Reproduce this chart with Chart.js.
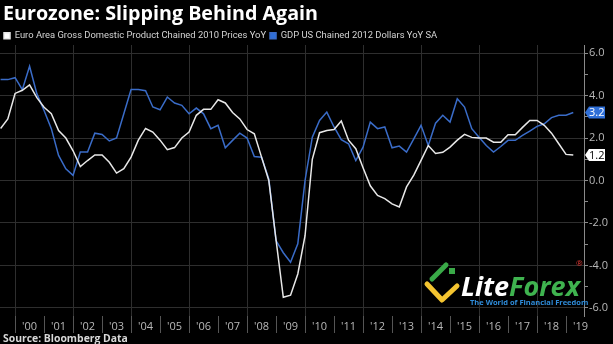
<!DOCTYPE html>
<html>
<head>
<meta charset="utf-8">
<script src="https://cdn.jsdelivr.net/npm/chart.js@4.4.1/dist/chart.umd.min.js"></script>
<style>
html, body { margin: 0; padding: 0; background: #000; }
#wrap { width: 613px; height: 344px; position: relative; }
</style>
</head>
<body>
<div id="wrap"><canvas id="gdpChart" width="613" height="344"></canvas></div>
<script>
const quarters = [
  '1999Q2', '1999Q3', '1999Q4',
  '2000Q1', '2000Q2', '2000Q3', '2000Q4',
  '2001Q1', '2001Q2', '2001Q3', '2001Q4',
  '2002Q1', '2002Q2', '2002Q3', '2002Q4',
  '2003Q1', '2003Q2', '2003Q3', '2003Q4',
  '2004Q1', '2004Q2', '2004Q3', '2004Q4',
  '2005Q1', '2005Q2', '2005Q3', '2005Q4',
  '2006Q1', '2006Q2', '2006Q3', '2006Q4',
  '2007Q1', '2007Q2', '2007Q3', '2007Q4',
  '2008Q1', '2008Q2', '2008Q3', '2008Q4',
  '2009Q1', '2009Q2', '2009Q3', '2009Q4',
  '2010Q1', '2010Q2', '2010Q3', '2010Q4',
  '2011Q1', '2011Q2', '2011Q3', '2011Q4',
  '2012Q1', '2012Q2', '2012Q3', '2012Q4',
  '2013Q1', '2013Q2', '2013Q3', '2013Q4',
  '2014Q1', '2014Q2', '2014Q3', '2014Q4',
  '2015Q1', '2015Q2', '2015Q3', '2015Q4',
  '2016Q1', '2016Q2', '2016Q3', '2016Q4',
  '2017Q1', '2017Q2', '2017Q3', '2017Q4',
  '2018Q1', '2018Q2', '2018Q3', '2018Q4',
  '2019Q1'
];

// YoY % change, one value per quarter above
const euroArea = [
  2.45, 2.9, 4.1,
  4.25, 4.5, 3.9, 3.45,
  3.15, 2.35, 2.0, 1.4,
  0.66, 0.94, 1.2, 1.2,
  0.86, 0.35, 0.56, 1.1,
  1.9, 2.45, 2.28, 1.9,
  1.45, 1.55, 2.0, 2.28,
  3.07, 3.35, 3.35, 3.8,
  3.65, 3.2, 2.9, 2.4,
  2.2, 1.1, 0.0, -2.8,
  -5.5, -5.4, -4.4, -2.6,
  1.0, 2.25, 2.35, 2.4,
  2.8, 1.9, 1.5, 0.6,
  -0.25, -0.7, -0.85, -1.1,
  -1.25, -0.3, 0.25, 0.95,
  1.65, 1.27, 1.33, 1.57,
  1.9, 2.17, 2.03, 2.0,
  2.0, 1.8, 1.8, 2.15,
  2.15, 2.5, 2.83, 2.83,
  2.6, 2.23, 1.73, 1.23,
  1.2
];

const usGdp = [
  4.75, 4.75, 4.84,
  4.28, 5.38, 4.09, 3.3,
  2.44, 1.18, 0.55, 0.24,
  1.34, 1.34, 2.23, 2.17,
  1.86, 2.0, 3.14, 4.28,
  4.28, 4.23, 3.46, 3.33,
  3.93, 3.65, 3.54, 3.14,
  3.41, 3.14, 2.44, 2.6,
  1.54, 1.89, 2.23, 2.0,
  1.13, 1.1, 0.08, -2.83,
  -3.4, -3.85, -2.98, 0.0,
  2.04, 2.83, 3.22, 2.52,
  1.92, 1.73, 0.94, 1.57,
  2.75, 2.44, 2.52, 1.54,
  1.62, 1.34, 1.96, 2.6,
  1.65, 2.7, 3.07, 2.75,
  3.85, 3.46, 2.44, 2.04,
  1.65, 1.34, 1.6, 1.89,
  1.89, 2.12, 2.33, 2.55,
  2.67, 2.96, 3.07, 3.07,
  3.2
];

const years = [2000, 2001, 2002, 2003, 2004, 2005, 2006, 2007, 2008, 2009,
               2010, 2011, 2012, 2013, 2014, 2015, 2016, 2017, 2018, 2019];
const yearLabels = ["'00", "'01", "'02", "'03", "'04", "'05", "'06", "'07", "'08", "'09",
                    "'10", "'11", "'12", "'13", "'14", "'15", "'16", "'17", "'18", "'19"];
const yTicks = [-6, -5, -4, -3, -2, -1, 0, 1, 2, 3, 4, 5, 6];

const titleText = 'Eurozone: Slipping Behind Again';
const sourceText = 'Source: Bloomberg Data';
const euroLabel = 'Euro Area Gross Domestic Product Chained 2010 Prices YoY';
const usLabel = 'GDP US Chained 2012 Dollars YoY SA';

const WHITE = '#e8e8e8';
const BLUE = '#3a6cc8';

// quarterly figures sit on the last day of their quarter
function quarterEnd(q) {
  return Number(q.slice(0, 4)) + Number(q.slice(5)) * 0.25;
}
function toPoints(values) {
  return values.map((v, i) => ({ x: quarterEnd(quarters[i]), y: v }));
}

function drawTag(ctx, y, label, fill, color) {
  ctx.beginPath();
  ctx.moveTo(585, y);
  ctx.lineTo(589, y - 6);
  ctx.lineTo(605, y - 6);
  ctx.lineTo(605, y + 6);
  ctx.lineTo(589, y + 6);
  ctx.closePath();
  ctx.fillStyle = fill;
  ctx.fill();
  ctx.fillStyle = color;
  ctx.font = '11px "Open Sans"';
  ctx.textAlign = 'left';
  ctx.textBaseline = 'middle';
  ctx.fillText(label, 589, y + 0.5);
}

function drawLogo(ctx) {
  ctx.save();
  ctx.lineCap = 'round';
  ctx.lineJoin = 'round';
  ctx.lineWidth = 5;
  ctx.strokeStyle = '#f4c430';
  ctx.beginPath();
  ctx.moveTo(427, 284);
  ctx.lineTo(442, 300);
  ctx.lineTo(457, 286);
  ctx.stroke();
  ctx.strokeStyle = '#3aaa48';
  ctx.beginPath();
  ctx.moveTo(432, 279);
  ctx.lineTo(446, 265);
  ctx.stroke();
  ctx.fillStyle = '#3aaa48';
  ctx.fillRect(449, 268, 6, 6);
  ctx.font = 'italic bold 27px "Open Sans"';
  ctx.textBaseline = 'alphabetic';
  ctx.textAlign = 'left';
  ctx.fillStyle = '#ffffff';
  ctx.fillText('Lite', 461, 296);
  const w = ctx.measureText('Lite').width;
  ctx.fillStyle = '#3fb34f';
  ctx.fillText('Forex', 461 + w, 296);
  ctx.fillStyle = '#e53935';
  ctx.font = '8px "Open Sans"';
  ctx.fillText('\u00AE', 576, 266);
  ctx.fillStyle = '#2f8ddb';
  ctx.font = 'bold 7.5px "Open Sans"';
  ctx.fillText('The World of Financial Freedom', 470, 305);
  ctx.restore();
}

const decorations = {
  id: 'decorations',
  afterDraw(chart) {
    const ctx = chart.ctx;
    const y = chart.scales.y;
    ctx.save();
    ctx.fillStyle = '#ffffff';
    ctx.font = 'bold 19.7px "Open Sans"';
    ctx.textBaseline = 'alphabetic';
    ctx.textAlign = 'left';
    ctx.fillText(titleText, 3, 20);
    ctx.fillStyle = '#d8d8d8';
    ctx.font = 'bold 10.4px "Open Sans"';
    ctx.fillText(sourceText, 3, 342);
    drawLogo(ctx);
    const lastUs = usGdp[usGdp.length - 1];
    const lastEuro = euroArea[euroArea.length - 1];
    drawTag(ctx, y.getPixelForValue(lastUs), lastUs.toFixed(1), '#2f6fd8', '#ffffff');
    drawTag(ctx, y.getPixelForValue(lastEuro), lastEuro.toFixed(1), '#ffffff', '#000000');
    ctx.restore();
  }
};

const ctx = document.getElementById('gdpChart').getContext('2d');
const gdpChart = new Chart(ctx, {
  type: 'line',
  data: {
    datasets: [{
      label: euroLabel,
      data: toPoints(euroArea),
      borderColor: WHITE,
      backgroundColor: '#ffffff',
      borderWidth: 1.5,
      pointRadius: 0,
      tension: 0
    }, {
      label: usLabel,
      data: toPoints(usGdp),
      borderColor: BLUE,
      backgroundColor: '#2f6fd8',
      borderWidth: 1.5,
      pointRadius: 0,
      tension: 0
    }]
  },
  options: {
    responsive: false,
    animation: false,
    layout: { padding: { top: 27, right: 0, bottom: 0, left: 0 } },
    plugins: {
      legend: {
        align: 'start',
        maxHeight: 18,
        labels: {
          boxWidth: 6,
          boxHeight: 6,
          padding: 4,
          color: '#d4d4d4',
          font: { family: 'Roboto', size: 9.4 }
        }
      },
      tooltip: { enabled: false }
    },
    scales: {
      x: {
        type: 'linear',
        min: 1999.48,
        max: 2019.62,
        afterBuildTicks(scale) { scale.ticks = years.map(v => ({ value: v })); },
        afterFit(scale) { scale.height = 28; },
        border: { display: false },
        grid: {
          color: c => (c.tick && c.tick.value % 2 === 0) ? '#2e2e2e' : 'transparent',
          tickColor: '#555',
          tickLength: 17,
          lineWidth: 1
        },
        ticks: {
          autoSkip: false,
          maxRotation: 0,
          padding: -13,
          labelOffset: 14.5,
          color: '#b8b8b8',
          font: { family: 'Open Sans', size: 11 },
          callback: (v, i) => yearLabels[i]
        }
      },
      y: {
        position: 'right',
        min: -6.38,
        max: 6.38,
        afterBuildTicks(scale) { scale.ticks = yTicks.map(v => ({ value: v })); },
        afterFit(scale) { scale.width = 29; },
        border: { display: true, color: '#8a8a8a', width: 1 },
        grid: {
          color: c => (c.tick && c.tick.value % 2 === 0) ? '#2e2e2e' : 'transparent',
          tickColor: '#8a8a8a',
          tickLength: 4
        },
        ticks: {
          padding: 1,
          color: '#b8b8b8',
          font: { family: 'Open Sans', size: 11 },
          callback: v => (v % 2 === 0 ? v.toFixed(1) : '')
        }
      }
    }
  },
  plugins: [decorations]
});
</script>
</body>
</html>
